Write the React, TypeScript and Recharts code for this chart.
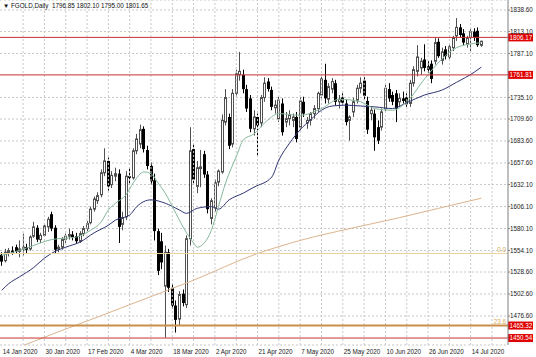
import { Bar, CartesianGrid, ComposedChart, Line, ReferenceLine, XAxis, YAxis } from "recharts"

// daily candles
const opens = [
  1549, 1542, 1551, 1554, 1558, 1553, 1556, 1558, 1556, 1571, 1581, 1567, 1572, 1582, 1597, 1581, 1556, 1558, 1567, 1571,
  1573, 1571, 1565, 1574, 1580, 1587, 1603, 1613, 1620, 1646, 1660, 1632, 1642, 1645, 1585, 1594, 1642, 1640, 1672, 1680,
  1698, 1673, 1654, 1637, 1577, 1565, 1512, 1552, 1510, 1489, 1473, 1503, 1490, 1568, 1674, 1630, 1651, 1668, 1644, 1592,
  1604, 1635, 1647, 1706, 1712, 1680, 1740, 1762, 1762, 1745, 1734, 1698, 1712, 1705, 1735, 1754, 1744, 1723, 1710, 1728,
  1706, 1710, 1708, 1712, 1700, 1730, 1705, 1708, 1716, 1722, 1738, 1756, 1733, 1745, 1752, 1730, 1735, 1728, 1708, 1718,
  1732, 1746, 1755, 1731, 1716, 1716, 1700, 1700, 1722, 1745, 1738, 1740, 1730, 1734, 1735, 1728, 1752, 1766, 1770, 1780,
  1772, 1775, 1778, 1801, 1779, 1792, 1783, 1794, 1808, 1818, 1811, 1798, 1806, 1813, 1814, 1796.85,
]
const highs = [
  1552, 1556, 1557, 1559, 1561, 1566, 1574, 1562, 1572, 1588, 1584, 1575, 1586, 1594, 1600, 1584, 1561, 1570, 1574, 1580,
  1577, 1575, 1577, 1583, 1589, 1606, 1618, 1623, 1650, 1675, 1664, 1648, 1652, 1650, 1600, 1648, 1652, 1675, 1692, 1703,
  1701, 1678, 1658, 1645, 1580, 1575, 1560, 1556, 1515, 1495, 1506, 1508, 1572, 1700, 1680, 1660, 1673, 1672, 1648, 1616,
  1638, 1650, 1715, 1745, 1716, 1745, 1768, 1789, 1768, 1750, 1738, 1720, 1716, 1738, 1759, 1758, 1748, 1732, 1736, 1734,
  1718, 1720, 1716, 1718, 1735, 1736, 1712, 1718, 1726, 1742, 1762, 1775, 1752, 1758, 1756, 1738, 1740, 1733, 1714, 1735,
  1750, 1759, 1759, 1736, 1724, 1721, 1708, 1722, 1750, 1752, 1742, 1744, 1740, 1742, 1740, 1756, 1772, 1797, 1782, 1798,
  1778, 1779, 1806, 1805, 1794, 1796, 1798, 1808, 1829, 1822, 1816, 1808, 1816, 1817, 1818, 1802.1,
]
const lows = [
  1536, 1540, 1547, 1549, 1550, 1546, 1548, 1551, 1554, 1569, 1564, 1563, 1570, 1576, 1577, 1551, 1552, 1555, 1563, 1567,
  1566, 1562, 1563, 1571, 1577, 1585, 1600, 1609, 1617, 1642, 1625, 1628, 1636, 1563, 1578, 1590, 1632, 1638, 1668, 1675,
  1670, 1650, 1632, 1566, 1525, 1532, 1451, 1505, 1485, 1457, 1466, 1488, 1486, 1560, 1632, 1622, 1629, 1640, 1598, 1585,
  1600, 1630, 1645, 1702, 1674, 1676, 1736, 1755, 1740, 1718, 1694, 1690, 1666, 1700, 1730, 1742, 1720, 1716, 1706, 1690,
  1700, 1702, 1700, 1682, 1696, 1712, 1698, 1702, 1710, 1718, 1734, 1728, 1728, 1740, 1726, 1722, 1726, 1702, 1684, 1712,
  1728, 1740, 1733, 1692, 1708, 1672, 1680, 1696, 1718, 1730, 1726, 1706, 1724, 1728, 1724, 1724, 1748, 1760, 1762, 1766,
  1764, 1752, 1774, 1782, 1774, 1780, 1780, 1790, 1802, 1806, 1797, 1794, 1790, 1802, 1795, 1795,
]
const closes = [
  1541, 1552, 1554, 1551, 1553, 1556, 1558, 1555, 1570, 1582, 1567, 1572, 1583, 1591, 1580, 1555, 1558, 1567, 1571, 1573,
  1570, 1565, 1574, 1580, 1586, 1603, 1615, 1619, 1646, 1660, 1630, 1643, 1645, 1582, 1593, 1642, 1640, 1672, 1686, 1697,
  1674, 1654, 1636, 1577, 1530, 1540, 1552, 1510, 1489, 1472, 1502, 1492, 1568, 1672, 1638, 1652, 1653, 1644, 1603, 1613,
  1634, 1648, 1708, 1735, 1678, 1740, 1763, 1766, 1745, 1722, 1698, 1712, 1702, 1735, 1752, 1745, 1724, 1726, 1732, 1694,
  1710, 1714, 1712, 1686, 1731, 1716, 1708, 1716, 1722, 1740, 1757, 1734, 1748, 1754, 1730, 1733, 1729, 1706, 1712, 1730,
  1746, 1752, 1737, 1697, 1720, 1688, 1684, 1718, 1746, 1734, 1730, 1722, 1734, 1731, 1727, 1752, 1768, 1783, 1778, 1770,
  1768, 1757, 1800, 1784, 1789, 1784, 1795, 1806, 1818, 1809, 1800, 1805, 1813, 1806, 1797, 1801.65,
]

// moving averages, read at a few bars each: [bar, price]
const fastMa = [
  [0, 1548], [7, 1557], [14, 1567], [21, 1570], [25, 1578], [28, 1588], [30, 1602], [32, 1610], [35, 1620], [37, 1634],
  [40, 1647], [42, 1645], [44, 1634], [46, 1622], [49, 1598], [52, 1575], [54, 1563], [55, 1558], [57, 1563], [59, 1578],
  [61, 1606], [63, 1634], [66, 1665], [68, 1685], [71, 1692], [74, 1705], [78, 1716], [84, 1714], [90, 1722], [95, 1733],
  [101, 1730], [105, 1722], [110, 1720], [114, 1730], [119, 1757], [124, 1781], [128, 1794], [133, 1799], [135, 1800],
]
const midMa = [
  [0, 1507], [2, 1515], [5, 1523], [9, 1534], [12, 1545], [15, 1553], [18, 1558], [22, 1564], [26, 1575], [30, 1584],
  [32, 1590], [36, 1596], [38, 1606], [42, 1614], [46, 1610], [50, 1602], [52, 1598], [55, 1604], [59, 1606], [61, 1603],
  [64, 1614], [68, 1622], [71, 1629], [76, 1641], [78, 1661], [81, 1681], [84, 1697], [87, 1709], [90, 1720], [93, 1725],
  [97, 1726], [101, 1725], [105, 1724], [110, 1722], [114, 1729], [119, 1738], [124, 1744], [128, 1753], [133, 1765], [135, 1771],
]
const slowMa = [
  [0, 1432], [5, 1440], [16, 1458], [28, 1477], [36, 1490], [54, 1519], [71, 1549], [84, 1566], [98, 1580], [112, 1593],
  [123, 1604], [135, 1616],
]

const dateTicks = [
  "14 Jan 2020", "30 Jan 2020", "17 Feb 2020", "4 Mar 2020", "18 Mar 2020", "2 Apr 2020",
  "21 Apr 2020", "7 May 2020", "25 May 2020", "10 Jun 2020", "26 Jun 2020", "14 Jul 2020",
]
const priceTicks = [
  1838.6, 1813.1, 1787.1, 1735.1, 1709.6, 1683.6, 1657.6, 1632.1, 1606.1, 1580.1, 1554.1, 1528.6, 1502.6, 1476.6,
]
const redLevels = [1806.17, 1761.81, 1450.54]
const fibLevels = [1550.5, 1465.32]
const fibNames = ["0.0", "23.6"]

const SLOTS = 143
const FONT = "'Liberation Sans', 'DejaVu Sans', sans-serif"

function pick(pts: number[][], i: number) {
  const f = pts.find((p) => p[0] === i)
  return f ? f[1] : null
}

const rows = Array.from({ length: SLOTS }, (_, i) => {
  const has = i < opens.length
  return {
    i,
    range: has ? [lows[i], highs[i]] : null,
    o: has ? opens[i] : null,
    h: has ? highs[i] : null,
    l: has ? lows[i] : null,
    c: has ? closes[i] : null,
    fast: pick(fastMa, i),
    mid: pick(midMa, i),
    slow: pick(slowMa, i),
  }
})

const dateTickBars = dateTicks.map((_, k) => k * 12)
const gridBars = Array.from({ length: 23 }, (_, k) => (k + 1) * 6)

function Candle(props: any) {
  const { x, y, width, height, payload } = props
  if (!payload || payload.o == null) return <g />
  const { o, h, l, c } = payload
  const top = Math.min(y, y + height)
  const span = Math.abs(height)
  const at = (v: number) => (h === l ? top : top + ((h - v) / (h - l)) * span)
  const cx = Math.round(x + width / 2 - 0.5) + 0.5
  const up = c >= o
  const bTop = at(Math.max(o, c))
  const bH = Math.max(at(Math.min(o, c)) - bTop, 1)
  return (
    <g>
      <line x1={cx} x2={cx} y1={top} y2={top + span} stroke={up ? "#505050" : "#000"} strokeWidth={1} />
      {up ? (
        <rect x={cx - 1} y={bTop} width={2} height={bH} fill="#fff" stroke="#505050" strokeWidth={1} />
      ) : (
        <rect x={cx - 1.5} y={bTop} width={3} height={bH} fill="#000" />
      )}
    </g>
  )
}

function DateTick({ x, payload }: any) {
  const label = dateTicks[Math.round(payload.value / 12)]
  return (
    <text x={x + 1} y={353.5} fontSize={6.3} fill="#222" textAnchor="start" fontFamily={FONT}>
      {label}
    </text>
  )
}

function PriceTick({ x, y, payload }: any) {
  return (
    <text x={x - 2} y={y + 2.3} fontSize={6.3} fill="#222" textAnchor="start" fontFamily={FONT}>
      {payload.value.toFixed(2)}
    </text>
  )
}

function PriceTag({ viewBox, value, fib }: any) {
  if (!viewBox) return <g />
  const right = viewBox.x + viewBox.width
  const y = viewBox.y
  return (
    <g fontFamily={FONT} fontSize={6.3}>
      {fib && (
        <text x={right - 2} y={y - 2} fill="#d9aa60" textAnchor="end">
          {fib}
        </text>
      )}
      {value != null && (
        <>
          <rect x={right} y={y - 4} width={25} height={8} fill="#e00000" />
          <text x={right + 1.5} y={y + 2.3} fill="#fff">
            {value.toFixed(2)}
          </text>
        </>
      )}
    </g>
  )
}

const noDot = () => <g />

export default function App() {
  return (
    <div style={{ position: "absolute", left: 0, top: 0, width: 536, height: 357, background: "#fff" }}>
      <div
        style={{
          position: "absolute",
          left: 3,
          top: 1,
          fontFamily: FONT,
          fontSize: 6.3,
          lineHeight: "10px",
          color: "#111",
          whiteSpace: "pre",
          zIndex: 2,
        }}
      >
        {"▼ FGOLD,Daily  1796.85 1802.10 1795.00 1801.65"}
      </div>
      <ComposedChart width={536} height={357} data={rows} margin={{ top: 0, right: 0, bottom: 0, left: 0 }}>
        <CartesianGrid vertical={false} stroke="#c8c8c8" strokeDasharray="2 2" />
        <XAxis dataKey="i" hide />
        <XAxis
          xAxisId="n"
          type="number"
          dataKey="i"
          domain={[-0.5, SLOTS - 0.5]}
          allowDataOverflow
          ticks={dateTickBars}
          interval={0}
          tick={<DateTick />}
          tickSize={3}
          height={12}
          stroke="#808080"
        />
        <YAxis
          orientation="right"
          domain={[1442.3, 1850.4]}
          allowDataOverflow
          ticks={priceTicks}
          interval={0}
          tick={<PriceTick />}
          tickSize={2}
          width={28}
          stroke="#808080"
        />
        {gridBars.map((v) => (
          <ReferenceLine key={"g" + v} xAxisId="n" x={v} stroke="#c8c8c8" strokeDasharray="2 2" />
        ))}
        <Bar dataKey="range" shape={<Candle />} isAnimationActive={false} />
        <Line dataKey="slow" type="monotone" stroke="#dcb48c" strokeWidth={1} dot={noDot} activeDot={false} connectNulls isAnimationActive={false} />
        <Line dataKey="mid" type="monotone" stroke="#2e3470" strokeWidth={1} dot={noDot} activeDot={false} connectNulls isAnimationActive={false} />
        <Line dataKey="fast" type="monotone" stroke="#86b89c" strokeWidth={1} dot={noDot} activeDot={false} connectNulls isAnimationActive={false} />
        <ReferenceLine
          y={fibLevels[0]}
          stroke="#ecd3a4"
          label={(p: any) => <PriceTag {...p} fib={fibNames[0]} />}
        />
        <ReferenceLine
          y={fibLevels[1]}
          stroke="#c8904a"
          strokeWidth={2}
          label={(p: any) => <PriceTag {...p} fib={fibNames[1]} value={fibLevels[1]} />}
        />
        {redLevels.map((v) => (
          <ReferenceLine key={"r" + v} y={v} stroke="#c83232" label={(p: any) => <PriceTag {...p} value={v} />} />
        ))}
      </ComposedChart>
    </div>
  )
}
